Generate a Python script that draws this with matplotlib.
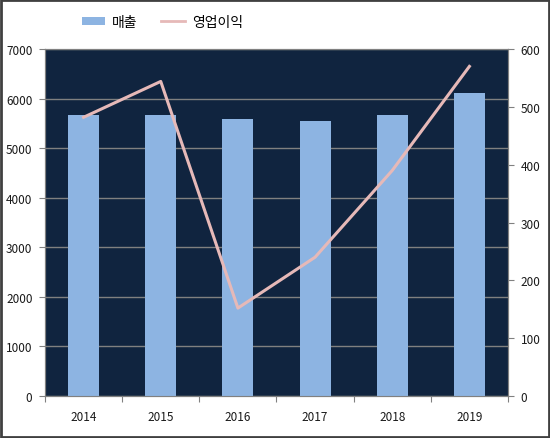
import matplotlib
matplotlib.use("Agg")
import matplotlib.pyplot as plt
from matplotlib.patches import Rectangle, Patch
from matplotlib.lines import Line2D
import numpy as np

plt.rcParams['font.family'] = ['Noto Sans CJK KR', 'DejaVu Sans']

years = ['2014', '2015', '2016', '2017', '2018', '2019']
sales = [5670, 5670, 5590, 5550, 5670, 6120]
op_profit = [482, 544, 152, 240, 390, 570]
sales_label = '매출'
profit_label = '영업이익'

fig = plt.figure(figsize=(5.5, 4.39), dpi=100)
fig.patch.set_facecolor('white')
fig.add_artist(Rectangle((0.002, 0.002), 0.996, 0.995, transform=fig.transFigure,
                         fill=False, edgecolor='#404040', linewidth=2))

ax = fig.add_axes([0.0818, 0.0957, 0.8418, 0.7903])
ax.set_facecolor('#10243F')
x = np.arange(len(years))
ax.bar(x, sales, width=0.4, color='#8DB4E2', zorder=3)
ax.set_xlim(-0.5, len(years) - 0.5)
ax.set_ylim(0, 7000)
ax.set_yticks(range(0, 7001, 1000))
ax.yaxis.grid(True, color='#808080', linewidth=1, zorder=1)
ax.set_axisbelow(True)
ax.set_xticks(np.arange(-0.5, len(years), 1))
ax.set_xticklabels([])
ax.set_xticks(x, minor=True)
ax.set_xticklabels(years, minor=True)
ax.tick_params(axis='x', which='minor', length=0, pad=10, labelsize=8.5)
ax.tick_params(axis='x', which='major', length=4, color='#808080')
ax.tick_params(axis='y', length=4, color='#808080', labelsize=8.5, pad=5)
for s in ax.spines.values():
    s.set_color('#808080')
for lbl in ax.get_xticklabels(minor=True) + ax.get_yticklabels():
    lbl.set_color('#1a1a1a')

ax2 = ax.twinx()
ax2.plot(x, op_profit, color='#E6B9B8', linewidth=2.2, zorder=4)
ax2.set_ylim(0, 600)
ax2.set_yticks(range(0, 601, 100))
ax2.tick_params(axis='y', length=4, color='#808080', labelsize=8.5, pad=5)
for s in ax2.spines.values():
    s.set_color('#808080')
for lbl in ax2.get_yticklabels():
    lbl.set_color('#1a1a1a')

handles = [Patch(facecolor='#8DB4E2', edgecolor='none'),
           Line2D([0], [0], color='#E6B9B8', linewidth=2)]
fig.legend(handles, [sales_label, profit_label], loc='center left',
           bbox_to_anchor=(0.126, 0.948), ncol=2, frameon=False, fontsize=10,
           handlelength=1.7, handleheight=0.5, columnspacing=1.7, handletextpad=0.5)

fig.savefig('out.png', dpi=100)
